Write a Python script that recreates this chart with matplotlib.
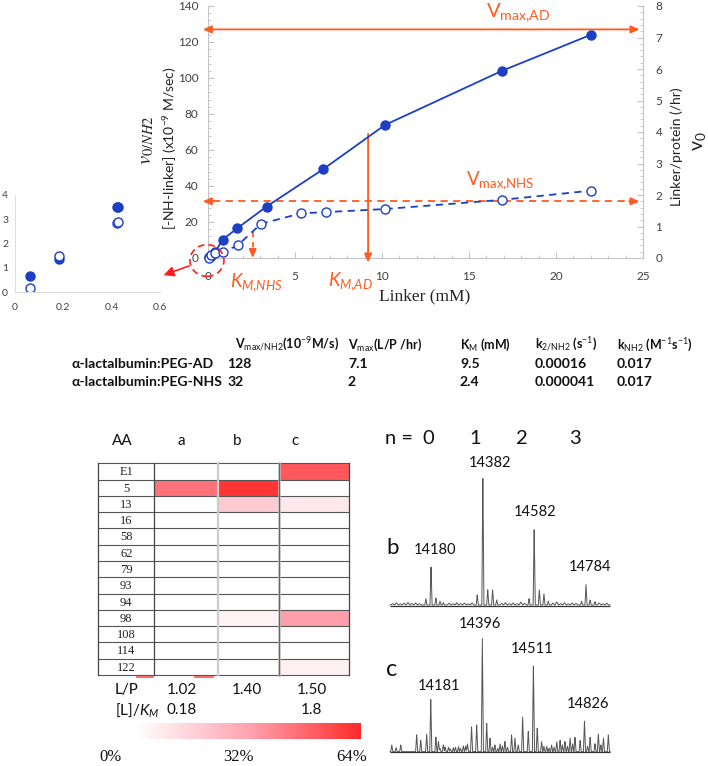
import numpy as np
import matplotlib
matplotlib.use('Agg')
import matplotlib.pyplot as plt
from matplotlib.patches import Ellipse, FancyArrowPatch
from matplotlib.lines import Line2D
from matplotlib.ticker import MultipleLocator
from matplotlib.colors import LinearSegmentedColormap

# ---------------- data ----------------
linker_ad = [0.06, 0.18, 0.42, 0.84, 1.68, 3.37, 6.6, 10.17, 16.9, 22.0]
rate_ad = [0.65, 1.35, 3.5, 10.2, 16.5, 28.6, 49.2, 73.9, 104, 124]
linker_nhs = [0.06, 0.18, 0.42, 0.87, 1.7, 3.05, 5.34, 6.8, 10.17, 16.9, 22.0]
rate_nhs = [0.15, 1.5, 2.85, 3.3, 7.0, 19.0, 24.8, 25.5, 27.2, 32.3, 37.4]
vmax_ad = 127
vmax_nhs = 31.5
km_ad = 9.2
km_ad_rate = 69
km_nhs = 2.57
km_nhs_rate = 14.6

table_rows = ['α-lactalbumin:PEG-AD', 'α-lactalbumin:PEG-NHS']
table_headers = [r'V$_{\mathrm{max/NH2}}$(10$^{\mathrm{-9}}$M/s)',
                 r'V$_{\mathrm{max}}$(L/P /hr)',
                 r'K$_{\mathrm{M}}$ (mM)',
                 r'k$_{\mathrm{2/NH2}}$ (s$^{\mathrm{-1}}$)',
                 r'k$_{\mathrm{NH2}}$ (M$^{\mathrm{-1}}$s$^{\mathrm{-1}}$)']
table_values = [['128', '7.1', '9.5', '0.00016', '0.017'],
                ['32', '2', '2.4', '0.000041', '0.017']]

aa_labels = ['E1', '5', '13', '16', '58', '62', '79', '93', '94', '98', '108', '114', '122']
sample_cols = ['a', 'b', 'c']
mod_pct = np.array([
    [0, 0, 52],
    [45, 61, 0],
    [0, 18, 8],
    [0, 0, 0],
    [0, 0, 0],
    [0, 0, 0],
    [0, 0, 0],
    [0, 0, 0],
    [0, 0, 0],
    [0, 4, 33],
    [0, 0, 0],
    [0, 0, 0],
    [0, 0, 5],
])
lp_ratio = ['1.02', '1.40', '1.50']
l_over_km = ['0.18', '', '1.8']
cbar_ticks = ['0%', '32%', '64%']

n_values = ['0', '1', '2', '3']

# spectrum b: (mass, relative intensity)
b_peak_mass = [14180, 14382, 14582, 14784,
               14160, 14199, 14215, 14228,
               14360, 14401, 14420, 14436,
               14562, 14602, 14620, 14637,
               14767, 14800, 14819]
b_peak_int = [30, 100, 60, 16,
              5, 5.5, 3, 2,
              8, 12, 12, 4,
              5, 12, 9, 3,
              3, 4, 2.6]
b_noise_mass = [14030, 14045, 14060, 14075, 14090, 14105, 14120, 14135,
                14250, 14265, 14280, 14295, 14310, 14325, 14340,
                14455, 14470, 14485, 14500, 14515, 14530, 14545,
                14655, 14670, 14685, 14700, 14715, 14730, 14745,
                14835, 14850, 14865]
b_noise_int = [1.2, 1.8, 1.0, 1.5, 2.0, 1.2, 1.6, 1.1,
               1.4, 1.0, 1.8, 1.2, 1.5, 1.0, 1.7,
               1.3, 1.9, 1.1, 1.6, 1.0, 2.2, 1.4,
               1.5, 2.4, 1.2, 1.8, 1.0, 1.6, 1.3,
               1.6, 1.1, 1.5]
b_labels = ['14180', '14382', '14582', '14784']

# spectrum c
c_peak_mass = [14179, 14380, 14579, 14778, 14537,
               14027, 14044, 14062, 14124, 14140, 14163, 14199, 14209, 14228,
               14248, 14267, 14287, 14306, 14322, 14338, 14358, 14397, 14410,
               14429, 14449, 14468, 14494, 14507, 14559, 14594, 14611, 14631,
               14650, 14670, 14683, 14702, 14722, 14741, 14761, 14800, 14819,
               14832, 14852, 14871]
c_peak_int = [46, 100, 77, 27, 31,
              6, 3.5, 6, 15, 10, 16, 13, 9, 6,
              4, 3.5, 4.5, 5, 7, 22, 24, 25, 12,
              6, 7, 9, 15, 12, 18, 21, 9, 4.5,
              6, 9, 10, 9, 12, 13, 10, 13, 7,
              16, 12, 15]
c_noise_mass = [14215, 14235, 14255, 14275, 14295, 14315, 14420, 14440, 14458,
                14478, 14520, 14620, 14640, 14660, 14692, 14712, 14732, 14790, 14842]
c_noise_int = [3, 4, 2.5, 4, 3, 5, 4, 3, 5, 4, 6, 5, 3, 4, 6, 5, 7, 5, 6]
c_labels = ['14181', '14396', '14511', '14826']

# ---------------- figure ----------------
W, H = 708, 766
fig = plt.figure(figsize=(W / 100, H / 100), dpi=100)
fig.patch.set_facecolor('white')

plt.rcParams['mathtext.fontset'] = 'custom'
plt.rcParams['mathtext.rm'] = 'Lato'
plt.rcParams['mathtext.it'] = 'Lato:italic'
plt.rcParams['mathtext.bf'] = 'Lato:bold'
plt.rcParams['font.family'] = ['Lato', 'DejaVu Sans']


def rect(l, t, r, b):
    return [l / W, 1 - b / H, (r - l) / W, (b - t) / H]


def ftext(x, y, s, **kw):
    kw.setdefault('ha', 'center')
    kw.setdefault('va', 'center')
    return fig.text(x / W, 1 - y / H, s, **kw)


BLUE = '#1c3fc4'
ORANGE = '#ff5a1f'
RED = '#ff1f1f'
GRAY_SP = '#c4c4c4'
TXT = '#404040'

# ---------------- main chart ----------------
ax = fig.add_axes(rect(208, 6, 643, 258))
ax.set_xlim(0, 25)
ax.set_ylim(0, 140)
ax.plot(linker_ad, rate_ad, '-', color=BLUE, lw=1.3, marker='o', ms=6.5,
        mfc=BLUE, mec=BLUE, clip_on=False, zorder=4)
ax.plot(linker_nhs, rate_nhs, '--', color=BLUE, lw=1.3, dashes=(4, 3), marker='o', ms=6.5,
        mfc='white', mec=BLUE, mew=1.0, clip_on=False, zorder=4)

for s in ['top', 'right']:
    ax.spines[s].set_visible(False)
for s in ['left', 'bottom']:
    ax.spines[s].set_color(GRAY_SP)
ax.set_xticks(range(0, 26, 5))
ax.set_yticks(range(0, 141, 20))
ax.xaxis.set_minor_locator(MultipleLocator(1))
ax.yaxis.set_minor_locator(MultipleLocator(4))
ax.tick_params(which='both', direction='in', color=GRAY_SP, labelsize=8.5, labelcolor=TXT)
ax.tick_params(which='major', length=4)
ax.tick_params(which='minor', length=2.5)
ax.tick_params(axis='x', pad=9)
ax.tick_params(axis='y', pad=7)

ax2 = ax.twinx()
ax2.set_ylim(0, 8)
for s in ['top', 'left', 'bottom']:
    ax2.spines[s].set_visible(False)
ax2.spines['right'].set_color(GRAY_SP)
ax2.set_yticks(range(0, 9))
ax2.yaxis.set_minor_locator(MultipleLocator(0.2))
ax2.tick_params(which='both', direction='in', color=GRAY_SP, labelsize=8.5, labelcolor=TXT, pad=9)
ax2.tick_params(which='major', length=4)
ax2.tick_params(which='minor', length=2.5)

# Vmax arrows
AST = '-|>,head_length=0.5,head_width=0.22'
ax.annotate('', xy=(24.8, vmax_ad), xytext=(-0.3, vmax_ad), annotation_clip=False,
            arrowprops=dict(arrowstyle='<|-|>,head_length=0.5,head_width=0.22', color=ORANGE, lw=1.3,
                            shrinkA=0, shrinkB=0))
ax.plot([0.3, 24.3], [vmax_nhs, vmax_nhs], '--', color=ORANGE, lw=1.3, dashes=(4, 3), clip_on=False)
ax.annotate('', xy=(24.8, vmax_nhs), xytext=(24.2, vmax_nhs), annotation_clip=False,
            arrowprops=dict(arrowstyle=AST, color=ORANGE, lw=1.3, shrinkA=0, shrinkB=0))
ax.annotate('', xy=(-0.3, vmax_nhs), xytext=(0.3, vmax_nhs), annotation_clip=False,
            arrowprops=dict(arrowstyle=AST, color=ORANGE, lw=1.3, shrinkA=0, shrinkB=0))
# KM arrows
ax.annotate('', xy=(km_ad, -2.5), xytext=(km_ad, km_ad_rate), annotation_clip=False,
            arrowprops=dict(arrowstyle=AST, color=ORANGE, lw=1.3, shrinkA=0, shrinkB=0))
ax.plot([km_nhs, km_nhs], [km_nhs_rate, 5], '--', color=ORANGE, lw=1.3, dashes=(3, 2.5))
ax.annotate('', xy=(km_nhs, 0), xytext=(km_nhs, 5), annotation_clip=False,
            arrowprops=dict(arrowstyle=AST, color=ORANGE, lw=1.3, shrinkA=0, shrinkB=0))

ax.text(16.0, 136, r'V$_{\mathrm{max{,}AD}}$', color=ORANGE, fontsize=14.5, ha='left', va='center')
ax.text(14.8, 42.8, r'V$_{\mathrm{max{,}NHS}}$', color=ORANGE, fontsize=13.5, ha='left', va='center')
ax.text(2.8, -13.5, r'$K_{M{,}NHS}$', color=ORANGE, fontsize=13.5, ha='center', va='center', clip_on=False)
ax.text(8.2, -13.0, r'$K_{M{,}AD}$', color=ORANGE, fontsize=13.5, ha='center', va='center', clip_on=False)

# dashed circle around origin + arrow to inset
ax.add_patch(Ellipse((-0.06, -1.4), 1.95, 17.6, fill=False, ec=RED, lw=1.2, ls=(0, (4, 2.5)),
                     clip_on=False, zorder=5))
fig.add_artist(FancyArrowPatch(
    (191.7, H - 265), (161, H - 276), transform=None,
    arrowstyle='-|>,head_length=6,head_width=3', color=RED, lw=1.2, mutation_scale=1))

# axis labels
ftext(425, 296, 'Linker (mM)', family='Liberation Serif', fontsize=12.5, color='#222222')
ftext(146, 140, r'$v_{0/NH2}$', rotation=90, fontsize=15, math_fontfamily='stix', color='#222222')
ftext(170, 148, r'[-NH-linker] (x10$^{\mathrm{-9}}$ M/sec)', rotation=90, fontsize=10, color='#222222')
ftext(677, 147, 'Linker/protein (/hr)', rotation=90, fontsize=10, color='#222222')
ftext(700, 141, r'v$_{\mathrm{0}}$', rotation=90, fontsize=14, color='#222222')

# legend keys (text cut off in the original)
for yk, fc in [(207, BLUE), (222, 'white')]:
    fig.add_artist(Line2D([118 / W], [1 - yk / H], ls='none', marker='o', ms=6.5,
                          mfc=fc, mec=BLUE, mew=1.0))

# ---------------- inset ----------------
axi = fig.add_axes(rect(15, 195, 160, 292))
axi.set_xlim(0, 0.6)
axi.set_ylim(0, 4)
axi.plot(linker_ad, rate_ad, ls='none', marker='o', ms=6.5, mfc=BLUE, mec=BLUE)
axi.plot(linker_nhs, rate_nhs, ls='none', marker='o', ms=6.5, mfc='white', mec=BLUE)
for s in ['top', 'right']:
    axi.spines[s].set_visible(False)
for s in ['left', 'bottom']:
    axi.spines[s].set_color('#dddddd')
axi.set_xticks([0, 0.2, 0.4, 0.6])
axi.set_xticklabels(['0', '0.2', '0.4', '0.6'])
axi.set_yticks(range(0, 5))
axi.tick_params(length=0, labelsize=7.5, labelcolor=TXT)
axi.tick_params(axis='x', pad=8)
axi.tick_params(axis='y', pad=5)

# ---------------- kinetics table ----------------
hx = [235, 348, 460, 535, 617]
vx = [227, 348, 460, 535, 617]
for x, s in zip(hx, table_headers):
    ftext(x, 345, s, ha='left', fontsize=9.0, fontweight='bold', color='#111111')
for ri, (lab, vals) in enumerate(zip(table_rows, table_values)):
    y = [363.5, 381.5][ri]
    ftext(71.5, y, lab, ha='left', fontsize=10.1, fontweight='bold', color='#111111')
    for x, v in zip(vx, vals):
        ftext(x, y, v, ha='left', fontsize=10.1, fontweight='bold', color='#111111')

# ---------------- heat map table ----------------
cmap = LinearSegmentedColormap.from_list('w2r', ['#ffffff', '#ffa3b0', '#ff2b2b'])
axh = fig.add_axes(rect(98.3, 463.3, 349.3, 675))
col_edges = [0, 56, 119.4, 181, 251]
nrow = len(aa_labels)
axh.set_xlim(0, col_edges[-1])
axh.set_ylim(nrow, 0)
axh.pcolormesh(col_edges[1:], np.arange(nrow + 1), mod_pct, cmap=cmap, vmin=0, vmax=64)
axh.axis('off')
for i in range(nrow + 1):
    axh.plot([0, col_edges[-1]], [i, i], color='#555555', lw=0.8, clip_on=False)
axh.plot([col_edges[2]] * 2, [0, nrow], color='#cccccc', lw=1.6, clip_on=False)
axh.plot([col_edges[3]] * 2, [0, nrow], color='#bbbbbb', lw=1.8, clip_on=False)
axh.plot([col_edges[3]] * 2, [0, nrow], color='#555555', lw=0.6, clip_on=False)
for xe in [0, col_edges[1], col_edges[-1]]:
    axh.plot([xe, xe], [0, nrow], color='#444444', lw=0.9, clip_on=False)
for i, lab in enumerate(aa_labels):
    axh.text(col_edges[1] / 2, i + 0.55, lab, family='Liberation Serif', fontsize=9,
             ha='center', va='center', color='#222222')
# small red marks under the table
fig.add_artist(Line2D([137 / W, 153 / W], [1 - 676.5 / H] * 2, color='#ff5050', lw=1.2))
fig.add_artist(Line2D([195 / W, 213 / W], [1 - 676.5 / H] * 2, color='#ff5050', lw=1.2))

ftext(122, 441, 'AA', fontsize=11, color='#111111')
for x, s in zip([181.7, 237, 295], sample_cols):
    ftext(x, 441, s, fontsize=11, color='#111111')
ftext(115, 690, 'L/P', ha='left', fontsize=11, color='#111111')
ftext(115, 710, r'[L]/$K_M$', ha='left', fontsize=11, color='#111111')
for x, s in zip([182, 246.7, 311.7], lp_ratio):
    ftext(x, 690, s, fontsize=11, color='#111111')
for x, s in zip([182, 246.7, 311.7], l_over_km):
    if s:
        ftext(x, 710, s, fontsize=11, color='#111111')

# colour bar
axc = fig.add_axes(rect(136.7, 722.7, 360, 739.3))
axc.imshow(np.linspace(0, 64, 256).reshape(1, -1), aspect='auto', cmap=cmap, vmin=0, vmax=64)
axc.axis('off')
for x, s in zip([110.5, 238.5, 352], cbar_ticks):
    ftext(x, 757, s, family='Liberation Serif', fontsize=12, color='#111111')

# ---------------- mass spectra ----------------
mz = np.linspace(14020, 14878, 4000)


def trace(pos, inten, width):
    y = np.zeros_like(mz)
    for p, h in zip(pos, inten):
        y += np.maximum(0, h * (1 - np.abs(mz - p) / width))
    return y


def spec_axes(l, t, r, b, ylo, yhi):
    a = fig.add_axes(rect(l, t, r, b))
    a.set_xlim(14000.7, 14897)
    a.set_ylim(ylo, yhi)
    a.axis('off')
    return a

axb = spec_axes(385, 470, 615, 610, -3.1, 106.25)
yb = trace(b_peak_mass, b_peak_int, 4) + trace(b_noise_mass, b_noise_int, 7)
axb.plot(mz, yb + 0.8, color='#555555', lw=0.7)
axb.hlines(0, 14020, 14878, color='#333333', lw=0.9)

axcs = spec_axes(385, 630, 615, 756, -3.8, 107)
yc = trace(c_peak_mass, c_peak_int, 4) + trace(c_noise_mass, c_noise_int, 4)
axcs.plot(mz, yc, color='#555555', lw=0.7)
axcs.hlines(0, 14020, 14878, color='#333333', lw=0.9)

ftext(385, 439, 'n =', ha='left', fontsize=14.5, color='#111111')
for x, s in zip([428, 475, 522, 575], n_values):
    ftext(x, 439, s, fontsize=14.5, color='#111111')

for (x, y), s in zip([(435, 550), (490, 463), (535, 512), (590, 567)], b_labels):
    ftext(x, y, s, fontsize=10.5, color='#111111')
for (x, y), s in zip([(439, 686), (480, 624), (532, 649), (588, 704)], c_labels):
    ftext(x, y, s, fontsize=10.5, color='#111111')
ftext(393, 548, 'b', fontsize=16, color='#111111')
ftext(392, 670, 'c', fontsize=17, color='#111111')

fig.savefig('out.png', dpi=100, facecolor='white')
